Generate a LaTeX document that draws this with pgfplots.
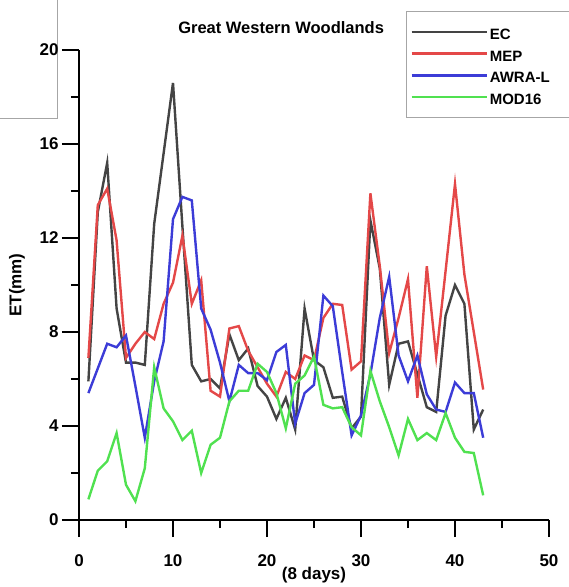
\documentclass[border=0pt]{standalone}
\usepackage{fontspec}
\setmainfont{Liberation Sans}
\usepackage{pgfplots}
\pgfplotsset{compat=1.18}
\definecolor{ecc}{RGB}{68,68,68}
\definecolor{mepc}{RGB}{228,72,72}
\definecolor{awrac}{RGB}{60,60,215}
\definecolor{modc}{RGB}{80,225,80}
\begin{document}
\begin{tikzpicture}[x=1pt,y=1pt]
\path[use as bounding box] (-79,-67) rectangle (490,520);
\draw[gray!70, line width=0.8pt] (-79,402) -- (-22,402) -- (-22,520);
\begin{axis}[at={(0,0)}, anchor=south west, width=470pt, height=470pt, scale only axis,
  xmin=0, xmax=50, ymin=0, ymax=20,
  axis lines*=left,
  axis line style={line width=2.2pt, black},
  xtick={0,10,...,50}, ytick={0,4,...,20},
  minor x tick num=1, minor y tick num=1,
  tick align=outside, major tick length=17pt, minor tick length=8pt,
  major tick style={black, line width=2.2pt},
  minor tick style={black, line width=2.2pt},
  tick label style={font=\fontsize{17}{20}\selectfont\bfseries},
  xticklabel style={yshift=-14pt},
  /pgf/number format/assume math mode=true,
  xlabel={(8 days)}, ylabel={ET(mm)},
  every axis x label/.style={at={(axis description cs:0.5,-0.117)}, anchor=center, font=\fontsize{17}{20}\selectfont\bfseries},
  every axis y label/.style={at={(axis description cs:-0.132,0.5)}, anchor=center, rotate=90, font=\fontsize{17}{20}\selectfont\bfseries},
  title={Great Western Woodlands},
  every axis title/.style={at={(axis description cs:0.43,1.047)}, anchor=center, font=\fontsize{16.5}{19}\selectfont\bfseries},
  legend style={at={(axis description cs:0.6957,1.083)}, anchor=north west, draw=gray!70, line width=0.8pt,
    font=\fontsize{15}{18}\selectfont\bfseries, row sep=2.8pt, inner xsep=4pt, inner ysep=11pt,
    nodes={text width=75pt, text height=15pt, text depth=0pt}},
  legend cell align=left,
  legend image code/.code={\draw[#1, line width=2.4pt] (0pt,0pt) -- (75pt,0pt);},
  clip=false,
]
\addplot[ecc, line width=2.4pt] coordinates {
(1,5.9)(2,13.1)(3,15.2)(4,9.0)(5,6.7)(6,6.7)(7,6.6)(8,12.6)(9,15.6)(10,18.6)
(11,12.5)(12,6.6)(13,5.9)(14,6.0)(15,5.6)(16,7.9)(17,6.8)(18,7.3)(19,5.7)(20,5.25)
(21,4.3)(22,5.2)(23,3.85)(24,9.0)(25,6.8)(26,6.5)(27,5.2)(28,5.25)(29,3.9)(30,4.4)
(31,12.75)(32,10.7)(33,5.75)(34,7.5)(35,7.6)(36,6.2)(37,4.8)(38,4.6)(39,8.7)(40,10.0)
(41,9.2)(42,3.85)(43,4.7)};
\addlegendentry{EC}
\addplot[mepc, line width=2.4pt] coordinates {
(1,6.9)(2,13.4)(3,14.1)(4,11.9)(5,6.9)(6,7.5)(7,8.0)(8,7.7)(9,9.2)(10,10.1)
(11,12.1)(12,9.2)(13,10.2)(14,5.5)(15,5.25)(16,8.15)(17,8.25)(18,7.2)(19,6.5)(20,5.8)
(21,5.25)(22,6.3)(23,6.0)(24,7.0)(25,6.8)(26,8.6)(27,9.2)(28,9.15)(29,6.4)(30,6.75)
(31,13.9)(32,10.8)(33,7.1)(34,8.6)(35,10.25)(36,5.2)(37,10.8)(38,6.95)(39,10.6)(40,14.3)
(41,10.45)(42,8.0)(43,5.55)};
\addlegendentry{MEP}
\addplot[awrac, line width=2.4pt] coordinates {
(1,5.4)(2,6.45)(3,7.5)(4,7.35)(5,7.85)(6,5.7)(7,3.5)(8,5.9)(9,7.6)(10,12.8)
(11,13.75)(12,13.6)(13,9.0)(14,8.1)(15,6.7)(16,5.05)(17,6.6)(18,6.25)(19,6.25)(20,5.95)
(21,7.15)(22,7.45)(23,4.1)(24,5.4)(25,5.75)(26,9.55)(27,9.1)(28,6.3)(29,3.6)(30,4.45)
(31,6.2)(32,8.6)(33,10.35)(34,7.0)(35,5.9)(36,7.0)(37,5.35)(38,4.7)(39,4.6)(40,5.85)
(41,5.4)(42,5.4)(43,3.5)};
\addlegendentry{AWRA-L}
\addplot[modc, line width=2.4pt] coordinates {
(1,0.88)(2,2.1)(3,2.5)(4,3.7)(5,1.5)(6,0.8)(7,2.2)(8,6.5)(9,4.75)(10,4.2)
(11,3.4)(12,3.8)(13,2.0)(14,3.2)(15,3.5)(16,5.05)(17,5.5)(18,5.5)(19,6.65)(20,6.3)
(21,5.4)(22,3.9)(23,5.8)(24,6.15)(25,6.95)(26,4.9)(27,4.75)(28,4.8)(29,3.95)(30,3.6)
(31,6.35)(32,5.05)(33,3.95)(34,2.75)(35,4.3)(36,3.4)(37,3.7)(38,3.4)(39,4.55)(40,3.5)
(41,2.9)(42,2.85)(43,1.05)};
\addlegendentry{MOD16}
\end{axis}
\end{tikzpicture}
\end{document}
